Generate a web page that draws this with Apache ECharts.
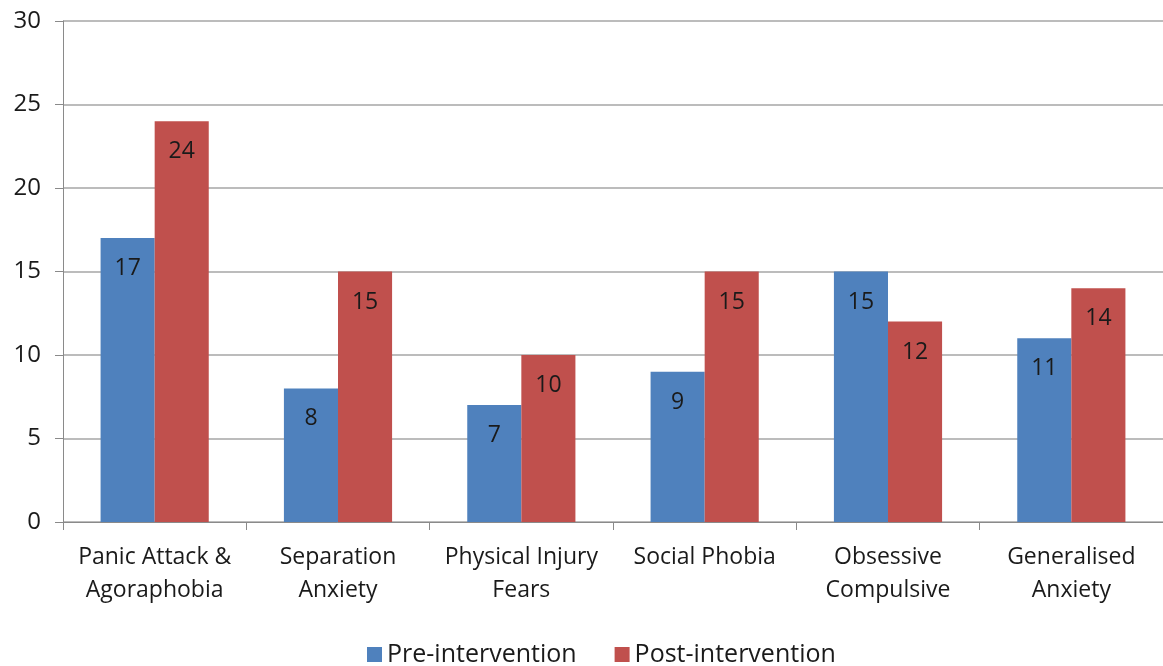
<!DOCTYPE html>
<html><head><meta charset="utf-8">
<script src="https://cdn.jsdelivr.net/npm/echarts@6/dist/echarts.min.js"></script>
<style>html,body{margin:0;padding:0;background:#fff}#c{width:1163px;height:666px}</style>
</head><body><div id="c"></div>
<script>
var categories = ["Panic Attack &\nAgoraphobia", "Separation\nAnxiety", "Physical Injury\nFears", "Social Phobia", "Obsessive\nCompulsive", "Generalised\nAnxiety"];
var preValues = [17, 8, 7, 9, 15, 11];
var postValues = [24, 15, 10, 15, 12, 14];
var seriesNames = ["Pre-intervention", "Post-intervention"];
var FONT = "Open Sans";
var chart = echarts.init(document.getElementById('c'));
var lbl = {show: true, position: 'insideTop', distance: 19, color: '#1a1a1a', fontSize: 23, fontFamily: FONT};
chart.setOption({
  animation: false,
  grid: {left: 63, right: 0, top: 21, bottom: 144, containLabel: false},
  legend: {
    top: 637, left: 362, itemWidth: 15, itemHeight: 15, itemGap: 38,
    icon: 'rect',
    textStyle: {fontSize: 25, color: '#1a1a1a', fontFamily: FONT},
    data: seriesNames
  },
  xAxis: {
    type: 'category', data: categories,
    axisLine: {lineStyle: {color: '#8a8a8a', width: 1}},
    axisTick: {show: true, length: 8, alignWithLabel: false, lineStyle: {color: '#8a8a8a'}},
    axisLabel: {color: '#1a1a1a', fontSize: 23, fontFamily: FONT, lineHeight: 33, margin: 19, interval: 0}
  },
  yAxis: {
    type: 'value', min: 0, max: 30, interval: 5,
    axisLine: {show: true, lineStyle: {color: '#8a8a8a'}},
    axisTick: {show: true, length: 8, lineStyle: {color: '#8a8a8a'}},
    axisLabel: {color: '#1a1a1a', fontSize: 24, fontFamily: FONT, margin: 22},
    splitLine: {lineStyle: {color: '#a6a6a6', width: 1.5}}
  },
  series: [
    {name: seriesNames[0], type: 'bar', data: preValues, barGap: '0%', barCategoryGap: '41%',
     itemStyle: {color: '#4F81BD'}, label: lbl},
    {name: seriesNames[1], type: 'bar', data: postValues, barGap: '0%', barCategoryGap: '41%',
     itemStyle: {color: '#C0504D'}, label: lbl}
  ]
});
</script></body></html>
